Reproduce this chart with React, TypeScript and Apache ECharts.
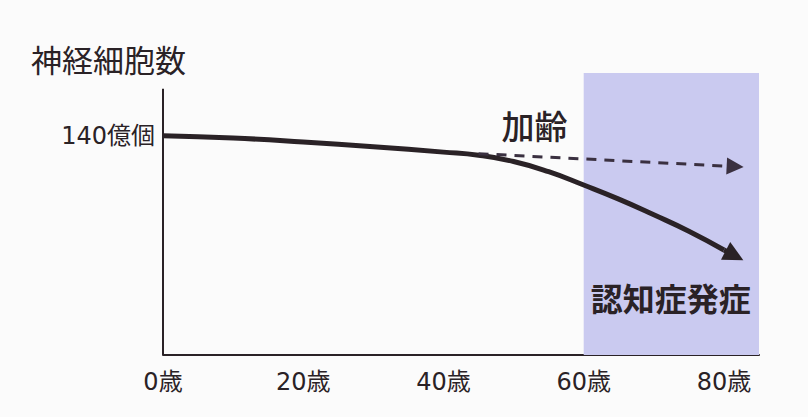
import React, { useEffect, useRef } from "react";
import * as echarts from "echarts";

const ages = [0, 10, 20, 30, 40, 45, 50, 55, 60, 65, 70, 75, 80];
const neurons = [140, 138.5, 136, 133, 129.5, 127.5, 123.5, 117, 108.5, 99.5, 89.5, 79, 67];
const solidArrow = { from: [80, 67], to: [81.5, 63.5] };
const dashedArrow = { from: [45, 128.5], to: [81.6, 120.3] };
const xTicks = [0, 20, 40, 60, 80];
const yTickLabel = 140;
const dementiaRange = [60, 85];
const titleText = "神経細胞数";
const agingLabel = { text: "加齢", at: [53, 147] };
const dementiaLabel = { text: "認知症発症", at: [72.4, 37] };

const FONT = '"Noto Sans CJK JP", "Noto Sans", sans-serif';
const NUMFONT = '"DejaVu Sans", "Noto Sans CJK JP", sans-serif';
const INK = "#2a2226";

export default function App() {
  const ref = useRef<HTMLDivElement>(null);
  useEffect(() => {
    document.body.style.margin = "0";
    const chart = echarts.init(ref.current!, null, { renderer: "svg" });
    chart.setOption({
      animation: false,
      backgroundColor: "#fbfbfb",
      textStyle: { fontFamily: FONT },
      title: {
        text: titleText,
        left: 26,
        top: 38,
        textStyle: { fontFamily: FONT, fontSize: 31, fontWeight: "normal", color: INK },
      },
      grid: { left: 163, right: 49, top: 73, bottom: 62 },
      xAxis: {
        type: "value",
        min: 0,
        max: 85,
        interval: 20,
        axisLine: { show: true, lineStyle: { color: INK, width: 2 } },
        axisTick: { show: false },
        splitLine: { show: false },
        axisLabel: {
          formatter: (v: number) => (xTicks.includes(v) ? `${v}歳` : ""),
          fontSize: 24,
          color: INK,
          margin: 15,
          fontFamily: NUMFONT,
        },
      },
      yAxis: {
        type: "value",
        min: 0,
        max: 180,
        interval: 140,
        axisLine: { show: false },
        axisTick: { show: false },
        splitLine: { show: false },
        axisLabel: {
          formatter: (v: number) => (v === yTickLabel ? `${v}億個` : ""),
          fontSize: 24,
          color: INK,
          margin: 8,
          fontFamily: NUMFONT,
        },
      },
      series: [
        {
          type: "line",
          data: ages.map((a, i) => [a, neurons[i]]),
          smooth: true,
          showSymbol: false,
          lineStyle: { color: INK, width: 5 },
          z: 3,
          markArea: {
            silent: true,
            itemStyle: { color: "#cacaf0", opacity: 1 },
            data: [[{ xAxis: dementiaRange[0] }, { xAxis: dementiaRange[1] }]],
            z: 1,
          },
          markLine: {
            silent: true,
            animation: false,
            label: { show: false },
            symbol: ["none", "none"],
            data: [
              [
                { coord: [0, 0], symbol: "none", lineStyle: { color: INK, width: 2, type: "solid" } },
                { coord: [0, 170], symbol: "none" },
              ],
              [
                { coord: solidArrow.from, symbol: "none", lineStyle: { color: INK, width: 5, type: "solid" } },
                { coord: solidArrow.to, symbol: "triangle", symbolSize: [20, 20] },
              ],
              [
                {
                  coord: dashedArrow.from,
                  symbol: "none",
                  lineStyle: { color: "#3a3040", width: 3, type: [10, 8] },
                },
                { coord: dashedArrow.to, symbol: "triangle", symbolSize: [17, 17] },
              ],
            ],
          },
          markPoint: {
            silent: true,
            symbol: "circle",
            symbolSize: 0,
            data: [
              {
                coord: agingLabel.at,
                label: {
                  show: true,
                  formatter: agingLabel.text,
                  fontSize: 33,
                  fontWeight: 500,
                  color: INK,
                  fontFamily: FONT,
                  position: "inside",
                },
              },
              {
                coord: dementiaLabel.at,
                label: {
                  show: true,
                  formatter: dementiaLabel.text,
                  fontSize: 32,
                  fontWeight: "bold",
                  color: INK,
                  fontFamily: FONT,
                  position: "inside",
                },
              },
            ],
          },
        },
      ],
    });
    return () => chart.dispose();
  }, []);
  return (
    <div
      ref={ref}
      style={{ position: "absolute", left: 0, top: 0, width: 808, height: 417 }}
    />
  );
}
